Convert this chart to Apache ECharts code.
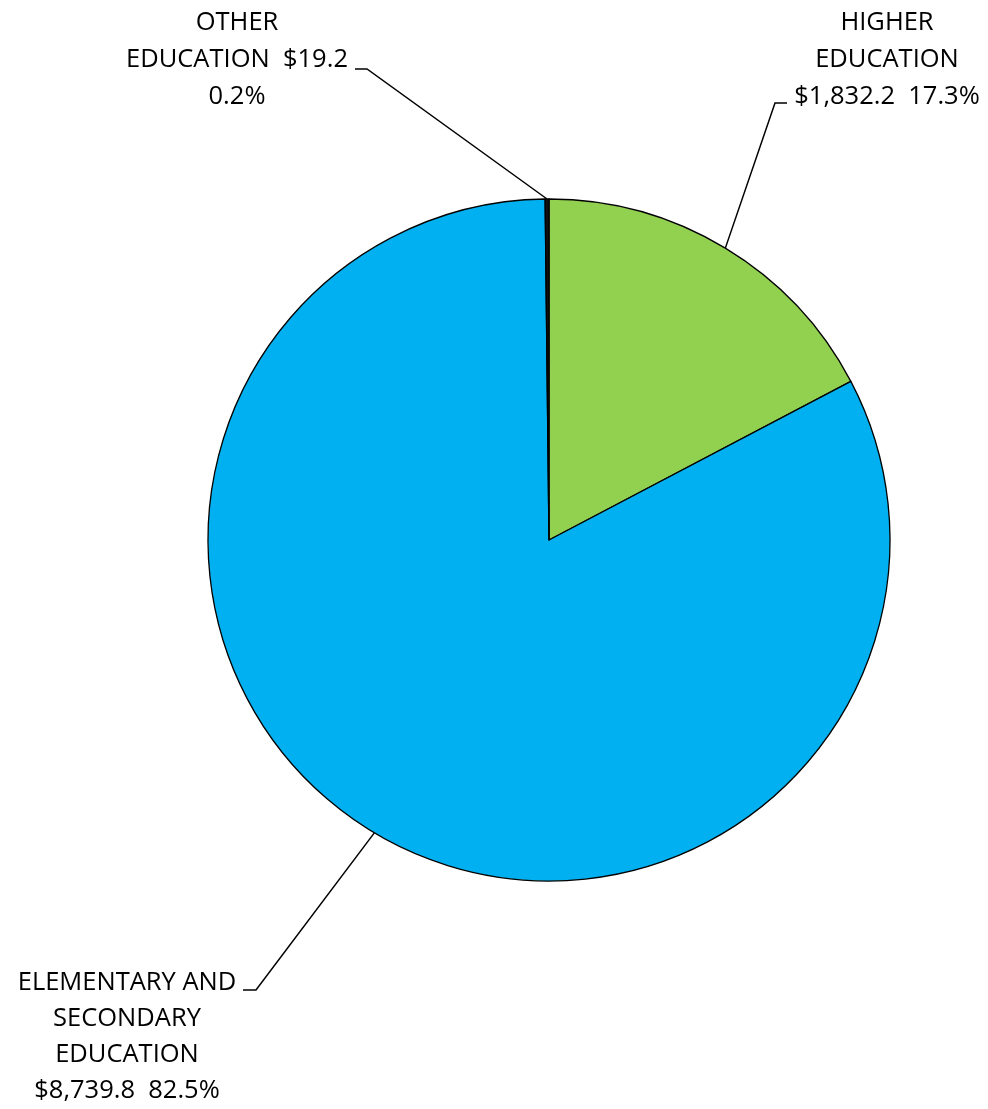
<!DOCTYPE html>
<html>
<head>
<meta charset="utf-8">
<script src="https://cdn.jsdelivr.net/npm/echarts@6/dist/echarts.min.js"></script>
<style>
html,body{margin:0;padding:0;background:#fff;}
#chart{width:988px;height:1109px;}
</style>
</head>
<body>
<div id="chart"></div>
<script>
// Data
var categories = ['HIGHER\nEDUCATION', 'ELEMENTARY AND\nSECONDARY\nEDUCATION', 'OTHER\nEDUCATION'];
var amounts = [1832.2, 8739.8, 19.2];
var amountLabels = ['$1,832.2', '$8,739.8', '$19.2'];
var percentLabels = ['17.3%', '82.5%', '0.2%'];
var labelTexts = [
  'HIGHER\nEDUCATION\n$1,832.2  17.3%',
  'ELEMENTARY AND\nSECONDARY\nEDUCATION\n$8,739.8  82.5%',
  'OTHER\nEDUCATION  $19.2\n0.2%'
];
var colors = ['#92D050', '#00B0F0', '#111111'];

// Layout (label boxes and leader line elbows)
var labelPos = [
  {x: 887, y: 4, lh: 37, elbow: [775, 103], end: [787, 103]},
  {x: 127, y: 965, lh: 36, elbow: [256, 990], end: [243, 990]},
  {x: 237, y: 4, lh: 37, elbow: [367, 69], end: [355, 69]}
];

var chart = echarts.init(document.getElementById('chart'));
chart.setOption({
  backgroundColor: '#fff',
  animation: false,
  series: [{
    type: 'pie',
    center: [549, 540],
    radius: 341,
    startAngle: 90,
    clockwise: true,
    avoidLabelOverlap: false,
    itemStyle: {borderColor: '#000', borderWidth: 1.3},
    label: {
      show: true,
      position: 'outside',
      color: '#000',
      fontFamily: 'Open Sans',
      fontSize: 25.5,
      lineHeight: 37,
      align: 'center',
      formatter: function (p) { return labelTexts[p.dataIndex]; }
    },
    labelLine: {show: true, lineStyle: {color: '#000', width: 1.5}},
    labelLayout: function (p) {
      var lp = labelPos[p.dataIndex];
      var start = p.labelLinePoints ? p.labelLinePoints[0] : lp.elbow;
      return {
        x: lp.x, y: lp.y, align: 'center', verticalAlign: 'top',
        labelLinePoints: [start, lp.elbow, lp.end]
      };
    },
    data: categories.map(function (c, i) {
      var item = {name: c, value: amounts[i], itemStyle: {color: colors[i]}};
      if (i === 1) item.label = {lineHeight: labelPos[1].lh};
      return item;
    })
  }]
});
</script>
</body>
</html>
